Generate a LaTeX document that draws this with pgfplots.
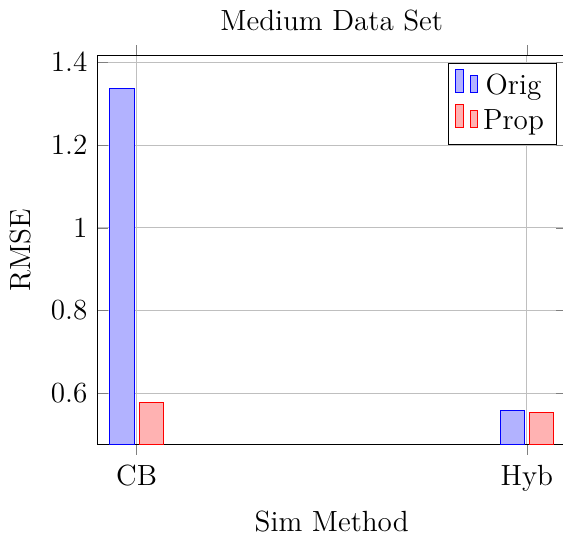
\documentclass[12pt,border=0pt]{standalone}
\usepackage{pgfplots}
\pgfplotsset{compat=1.18}
\begin{document}
\begin{tikzpicture}
\begin{axis}[
  ybar,
  scale only axis,
  width=192.6pt, height=159.9pt,
  title={Medium Data Set},
  xlabel={Sim Method},
  ylabel={RMSE},
  xtick=data,
  xticklabels={CB,Hyb},
  xtick align=outside,
  grid=major,
  enlargelimits=0.1,
]
\addplot[draw=blue, fill=blue!30] coordinates {(0,1.338) (1,0.559)};
\addplot[draw=red, fill=red!30] coordinates {(0,0.578) (1,0.554)};
\legend{Orig,Prop}
\end{axis}
\coordinate (SW) at (current bounding box.south west);
\coordinate (NE) at (current bounding box.north east);
\pgfresetboundingbox
\useasboundingbox (SW) rectangle ([xshift=-1.4pt]NE);
\end{tikzpicture}
\end{document}
